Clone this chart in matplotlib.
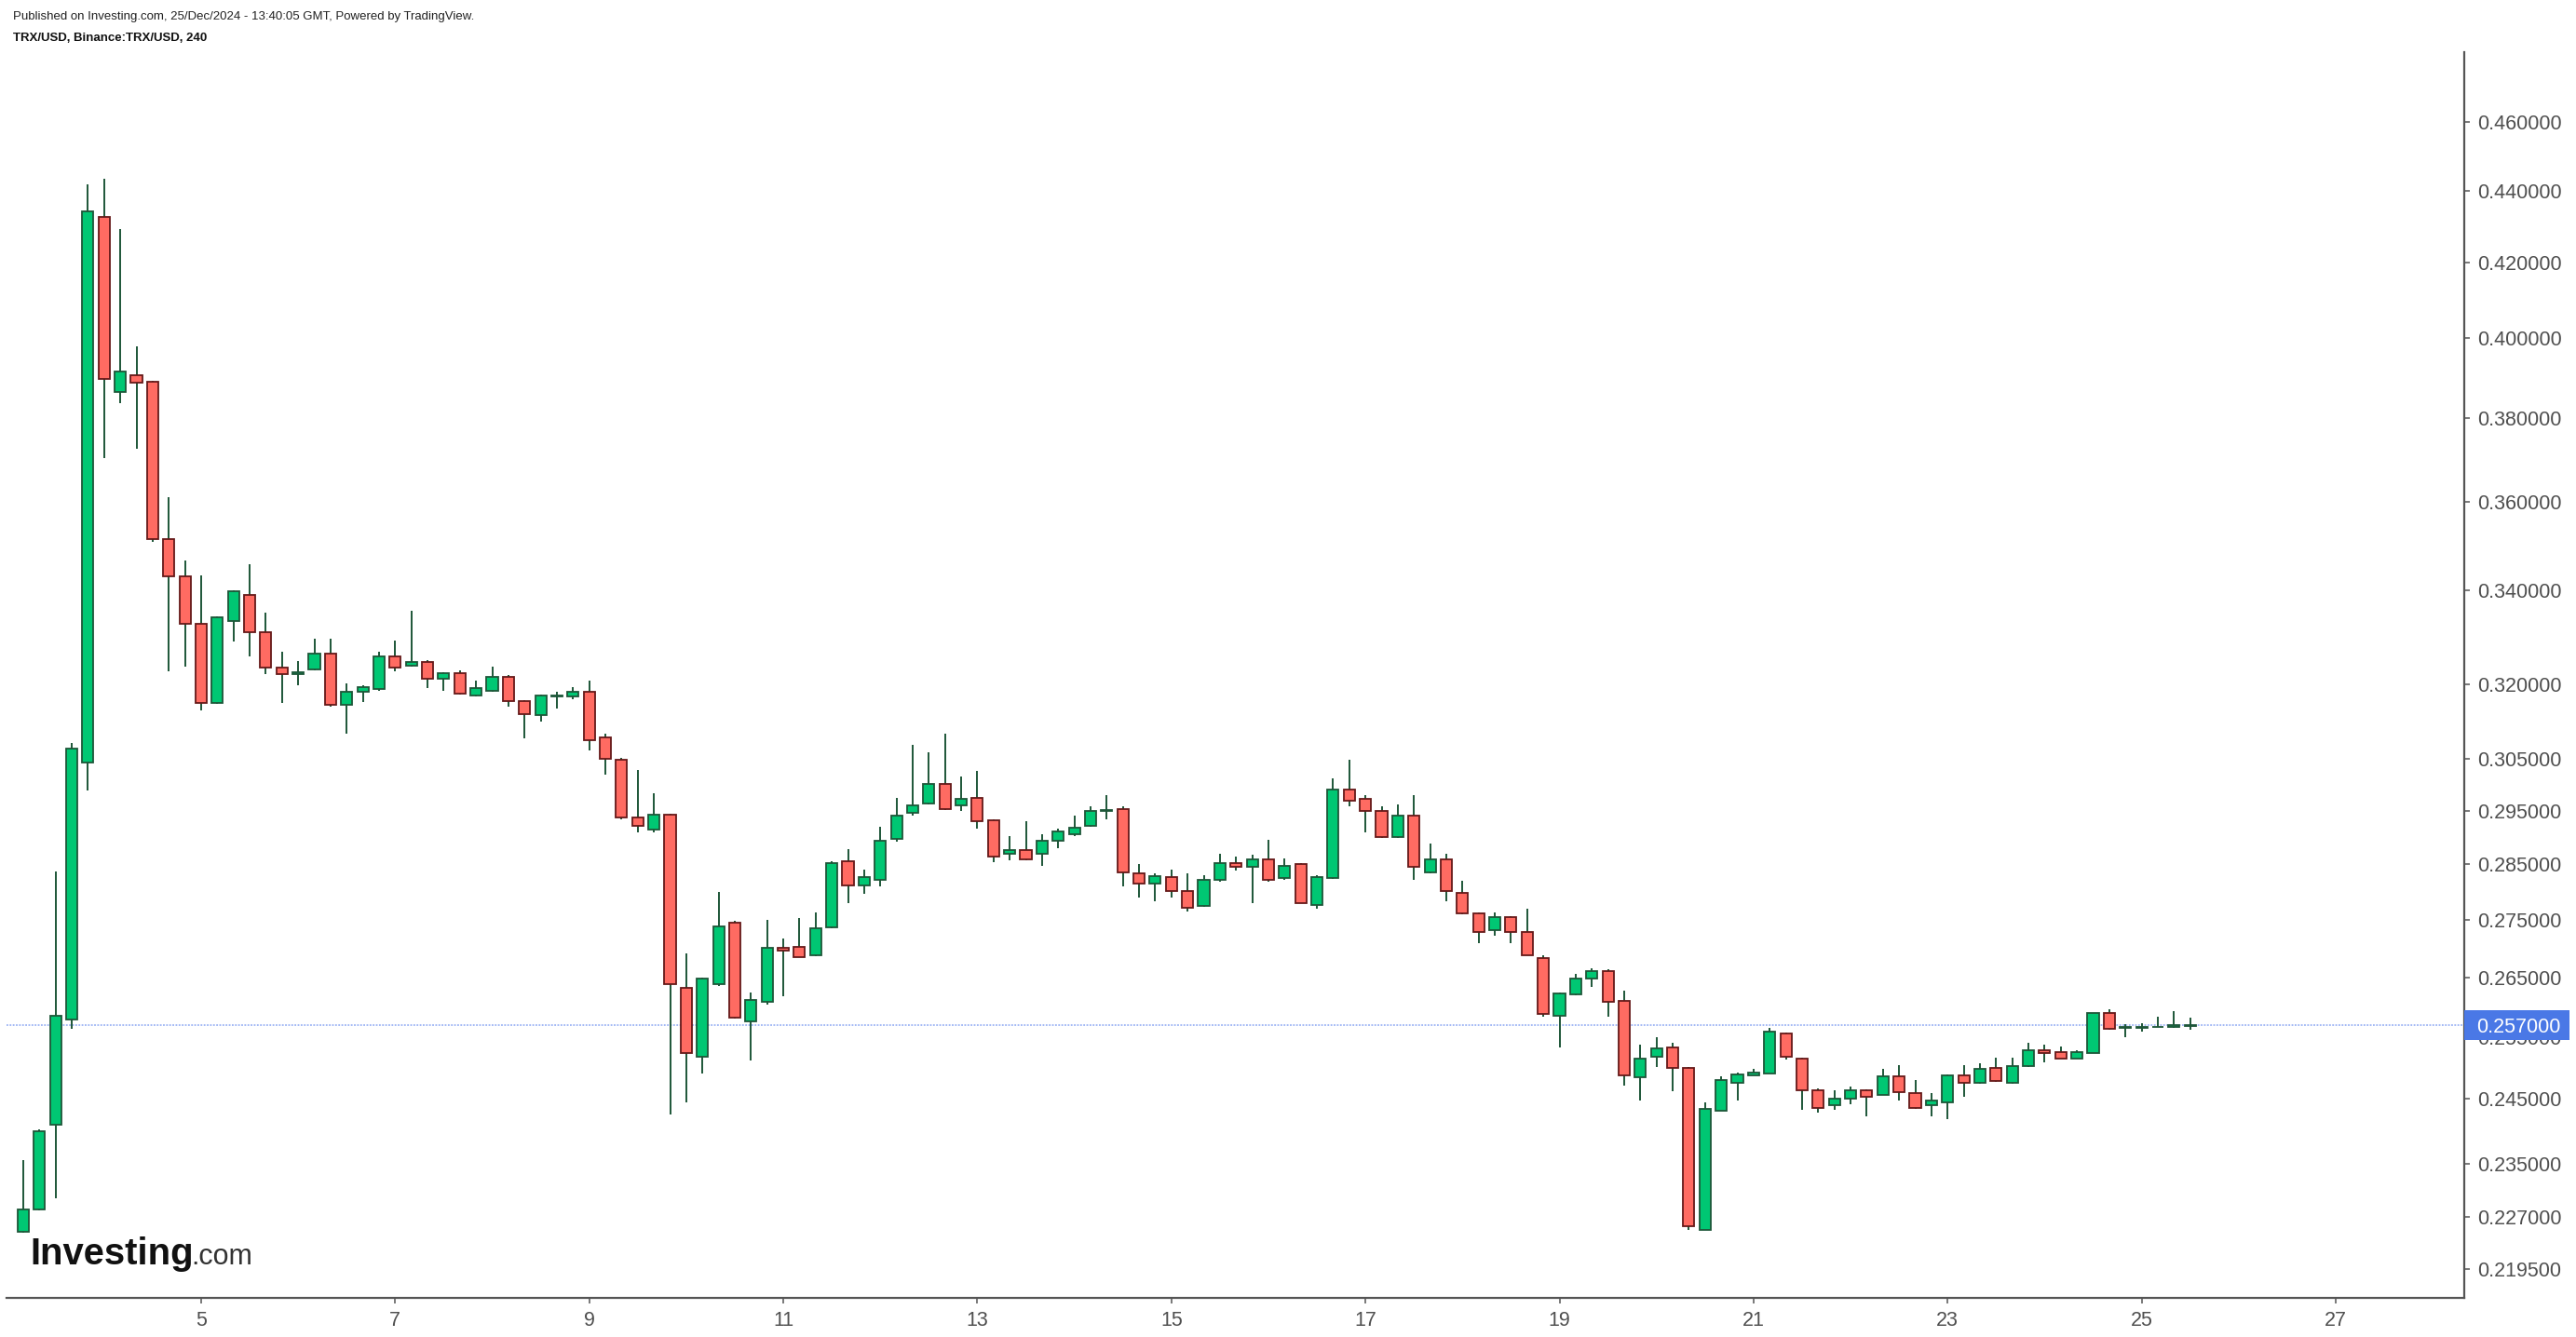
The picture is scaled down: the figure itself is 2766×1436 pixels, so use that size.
import matplotlib
matplotlib.use('Agg')
import matplotlib.pyplot as plt
import matplotlib.dates as mdates
from matplotlib.ticker import FixedLocator, FuncFormatter, NullLocator
from matplotlib.patches import Rectangle
import numpy as np
import pandas as pd

# ---------------- data (TRX/USD, 4h candles) ----------------
start_time = '2024-12-03 04:00'
opens = [0.2249, 0.2282, 0.2409, 0.2578, 0.3044, 0.4326, 0.3864, 0.3907, 0.3889, 0.3515,
         0.3432, 0.3327, 0.3163, 0.3334, 0.3391, 0.3310, 0.3235, 0.3221, 0.3232, 0.3265,
         0.3159, 0.3185, 0.3190, 0.3259, 0.3240, 0.3247, 0.3212, 0.3224, 0.3177, 0.3188,
         0.3216, 0.3166, 0.3137, 0.3175, 0.3175, 0.3186, 0.3092, 0.3048, 0.2937, 0.2915,
         0.2943, 0.2632, 0.2517, 0.2638, 0.2745, 0.2575, 0.2609, 0.2700, 0.2703, 0.2688,
         0.2737, 0.2856, 0.2811, 0.2822, 0.2897, 0.2946, 0.2963, 0.3001, 0.2960, 0.2975,
         0.2932, 0.2869, 0.2877, 0.2869, 0.2893, 0.2906, 0.2921, 0.2950, 0.2953, 0.2833,
         0.2814, 0.2826, 0.2802, 0.2774, 0.2822, 0.2853, 0.2846, 0.2859, 0.2825, 0.2850,
         0.2777, 0.2825, 0.2990, 0.2972, 0.2950, 0.2900, 0.2940, 0.2835, 0.2859, 0.2798,
         0.2762, 0.2731, 0.2755, 0.2729, 0.2683, 0.2585, 0.2620, 0.2647, 0.2661, 0.2610,
         0.2484, 0.2518, 0.2533, 0.2500, 0.2252, 0.2432, 0.2475, 0.2488, 0.2491, 0.2555,
         0.2515, 0.2464, 0.2440, 0.2451, 0.2464, 0.2457, 0.2486, 0.2459, 0.2440, 0.2445,
         0.2488, 0.2475, 0.2500, 0.2475, 0.2502, 0.2528, 0.2525, 0.2515, 0.2524, 0.2589,
         0.2564, 0.2565, 0.2566, 0.2567, 0.2568]
highs = [0.2355, 0.2403, 0.2837, 0.3082, 0.4417, 0.4433, 0.4292, 0.3980, 0.3892, 0.3611,
         0.3467, 0.3434, 0.3343, 0.3401, 0.3459, 0.3352, 0.3268, 0.3248, 0.3296, 0.3296,
         0.3203, 0.3198, 0.3268, 0.3292, 0.3356, 0.3250, 0.3226, 0.3229, 0.3209, 0.3237,
         0.3220, 0.3168, 0.3179, 0.3186, 0.3194, 0.3209, 0.3100, 0.3052, 0.3028, 0.2983,
         0.2945, 0.2691, 0.2650, 0.2800, 0.2748, 0.2624, 0.2750, 0.2717, 0.2753, 0.2763,
         0.2855, 0.2878, 0.2840, 0.2919, 0.2975, 0.3078, 0.3063, 0.3100, 0.3016, 0.3027,
         0.2934, 0.2902, 0.2930, 0.2906, 0.2916, 0.2941, 0.2958, 0.2980, 0.2958, 0.2851,
         0.2834, 0.2840, 0.2834, 0.2830, 0.2870, 0.2864, 0.2867, 0.2896, 0.2861, 0.2853,
         0.2830, 0.3012, 0.3049, 0.2980, 0.2958, 0.2962, 0.2980, 0.2889, 0.2870, 0.2820,
         0.2763, 0.2763, 0.2757, 0.2769, 0.2687, 0.2624, 0.2655, 0.2665, 0.2663, 0.2627,
         0.2537, 0.2549, 0.2540, 0.2501, 0.2444, 0.2486, 0.2492, 0.2498, 0.2565, 0.2557,
         0.2516, 0.2467, 0.2464, 0.2469, 0.2465, 0.2498, 0.2504, 0.2480, 0.2459, 0.2489,
         0.2504, 0.2507, 0.2516, 0.2516, 0.2540, 0.2537, 0.2534, 0.2528, 0.2590, 0.2596,
         0.2571, 0.2573, 0.2583, 0.2592, 0.2581]
lows = [0.2247, 0.2280, 0.2298, 0.2563, 0.2988, 0.3704, 0.3836, 0.3725, 0.3509, 0.3227,
        0.3238, 0.3147, 0.3160, 0.3290, 0.3258, 0.3222, 0.3163, 0.3199, 0.3230, 0.3155,
        0.3101, 0.3165, 0.3188, 0.3227, 0.3238, 0.3192, 0.3188, 0.3180, 0.3176, 0.3185,
        0.3154, 0.3091, 0.3125, 0.3151, 0.3170, 0.3067, 0.3020, 0.2934, 0.2909, 0.2909,
        0.2425, 0.2445, 0.2490, 0.2635, 0.2580, 0.2511, 0.2603, 0.2617, 0.2684, 0.2686,
        0.2735, 0.2779, 0.2796, 0.2810, 0.2892, 0.2941, 0.2962, 0.2952, 0.2949, 0.2916,
        0.2854, 0.2858, 0.2858, 0.2847, 0.2879, 0.2903, 0.2920, 0.2933, 0.2810, 0.2790,
        0.2783, 0.2790, 0.2764, 0.2773, 0.2818, 0.2838, 0.2779, 0.2818, 0.2821, 0.2779,
        0.2770, 0.2824, 0.2958, 0.2909, 0.2899, 0.2899, 0.2821, 0.2834, 0.2783, 0.2760,
        0.2708, 0.2721, 0.2708, 0.2687, 0.2584, 0.2532, 0.2619, 0.2634, 0.2584, 0.2471,
        0.2448, 0.2501, 0.2462, 0.2251, 0.2251, 0.2431, 0.2448, 0.2487, 0.2490, 0.2513,
        0.2433, 0.2428, 0.2433, 0.2442, 0.2422, 0.2456, 0.2448, 0.2435, 0.2422, 0.2419,
        0.2453, 0.2474, 0.2477, 0.2474, 0.2501, 0.2508, 0.2514, 0.2514, 0.2523, 0.2562,
        0.2550, 0.2559, 0.2566, 0.2565, 0.2561]
closes = [0.2282, 0.2400, 0.2585, 0.3070, 0.4342, 0.3897, 0.3916, 0.3888, 0.3515, 0.3432,
          0.3327, 0.3163, 0.3341, 0.3399, 0.3310, 0.3235, 0.3221, 0.3226, 0.3265, 0.3159,
          0.3185, 0.3194, 0.3259, 0.3235, 0.3247, 0.3212, 0.3224, 0.3182, 0.3193, 0.3216,
          0.3166, 0.3140, 0.3178, 0.3177, 0.3186, 0.3088, 0.3050, 0.2938, 0.2921, 0.2943,
          0.2638, 0.2524, 0.2648, 0.2738, 0.2582, 0.2611, 0.2700, 0.2696, 0.2685, 0.2735,
          0.2853, 0.2811, 0.2826, 0.2894, 0.2940, 0.2960, 0.3001, 0.2953, 0.2972, 0.2931,
          0.2865, 0.2877, 0.2859, 0.2894, 0.2911, 0.2918, 0.2950, 0.2952, 0.2835, 0.2814,
          0.2829, 0.2801, 0.2771, 0.2822, 0.2853, 0.2846, 0.2859, 0.2822, 0.2847, 0.2780,
          0.2826, 0.2990, 0.2969, 0.2949, 0.2900, 0.2940, 0.2846, 0.2859, 0.2801, 0.2761,
          0.2728, 0.2755, 0.2728, 0.2688, 0.2588, 0.2623, 0.2648, 0.2661, 0.2609, 0.2487,
          0.2515, 0.2531, 0.2499, 0.2257, 0.2435, 0.2480, 0.2489, 0.2492, 0.2558, 0.2518,
          0.2463, 0.2436, 0.2450, 0.2464, 0.2454, 0.2486, 0.2460, 0.2436, 0.2447, 0.2488,
          0.2475, 0.2498, 0.2478, 0.2503, 0.2528, 0.2524, 0.2515, 0.2525, 0.2589, 0.2563,
          0.2567, 0.2567, 0.2567, 0.2569, 0.2570]

ytick_values = [0.2195, 0.227, 0.235, 0.245, 0.255, 0.265, 0.275, 0.285, 0.295, 0.305,
                0.32, 0.34, 0.36, 0.38, 0.40, 0.42, 0.44, 0.46]
xtick_days = [5, 7, 9, 11, 13, 15, 17, 19, 21, 23, 25, 27]
last_price = 0.257
header_line1 = 'Published on Investing.com, 25/Dec/2024 - 13:40:05 GMT, Powered by TradingView.'
header_line2 = 'TRX/USD, Binance:TRX/USD, 240'

# ---------------- styling ----------------
W, H = 2766, 1436
UP_FILL, UP_EDGE = '#00c773', '#1d5638'
DN_FILL, DN_EDGE = '#ff6b62', '#641818'
WICK = '#1d5638'
AXIS_C = '#555555'
LABEL_C = '#4f4f4f'
FONT = ['Liberation Sans', 'DejaVu Sans']
plt.rcParams['font.family'] = FONT

fig = plt.figure(figsize=(W / 100, H / 100), dpi=100)
fig.patch.set_facecolor('white')
ax_l, ax_r, ax_t, ax_b = 7, 2646, 56, 1394
ax = fig.add_axes([ax_l / W, 1 - ax_b / H, (ax_r - ax_l) / W, (ax_b - ax_t) / H])

o = np.array(opens); h = np.array(highs); l = np.array(lows); c = np.array(closes)
times = pd.date_range(start_time, periods=len(o), freq='4h')
x = mdates.date2num(times.to_pydatetime())
up = c >= o

ax.vlines(x, l, h, color=WICK, linewidth=1.4, zorder=2)
body_w = 0.116
ax.bar(x[up], np.abs(c - o)[up], bottom=np.minimum(o, c)[up], width=body_w,
       color=UP_FILL, edgecolor=UP_EDGE, linewidth=1.3, zorder=3)
ax.bar(x[~up], np.abs(c - o)[~up], bottom=np.minimum(o, c)[~up], width=body_w,
       color=DN_FILL, edgecolor=DN_EDGE, linewidth=1.3, zorder=3)

# last price line
ax.axhline(last_price, color='#8aa6f2', linestyle=(0, (1.2, 1.0)), linewidth=1.1, zorder=1)

# scales
ax.set_yscale('log')
ax.set_ylim(0.21551, 0.48104)
x0 = mdates.date2num(pd.Timestamp('2024-12-03').to_pydatetime())
ax.set_xlim(x0 - 0.006, x0 + 25.325)

ax.yaxis.tick_right()
ax.yaxis.set_major_locator(FixedLocator(ytick_values))
ax.yaxis.set_minor_locator(NullLocator())
ax.yaxis.set_major_formatter(FuncFormatter(lambda v, p: f'{v:.6f}'))
xt = [mdates.date2num(pd.Timestamp(2024, 12, d).to_pydatetime()) for d in xtick_days]
ax.set_xticks(xt)
ax.set_xticklabels([str(d) for d in xtick_days])
ax.xaxis.set_minor_locator(NullLocator())

for s in ['left', 'top']:
    ax.spines[s].set_visible(False)
for s in ['right', 'bottom']:
    ax.spines[s].set_color(AXIS_C)
    ax.spines[s].set_linewidth(1.6)
ax.tick_params(axis='y', which='major', direction='out', length=4, width=1.1,
               color=AXIS_C, labelcolor=LABEL_C, labelsize=15.5, pad=6)
ax.tick_params(axis='x', which='major', direction='out', length=4, width=1.1,
               color=AXIS_C, labelcolor=LABEL_C, labelsize=15.5, pad=6)
ax.grid(False)

# last price label box on the axis (covers part of the 0.255 label, as in the original)
half = 16 / 1666.5
ax.add_patch(Rectangle((1.0, last_price * np.exp(-half)), 113 / (ax_r - ax_l),
                       last_price * (np.exp(half) - np.exp(-half)),
                       transform=ax.get_yaxis_transform(), facecolor='#4a78e6',
                       edgecolor='none', clip_on=False, zorder=10))
ax.text(1.0 + 13 / (ax_r - ax_l), last_price, f'{last_price:.6f}',
        transform=ax.get_yaxis_transform(), ha='left', va='center_baseline',
        color='white', fontsize=15.5, zorder=11, clip_on=False)

# header texts
renderer = fig.canvas.get_renderer()

def fit(t, target_w):
    w = t.get_window_extent(renderer).width
    t.set_fontsize(t.get_fontsize() * target_w / w)

t1 = fig.text(14 / W, 1 - 21 / H, header_line1, fontsize=10, color='#222222', va='baseline')
fit(t1, 498)
t2 = fig.text(14 / W, 1 - 44 / H, header_line2, fontsize=10, color='#111111',
              fontweight='bold', va='baseline')
fit(t2, 210)

# Investing.com logo
lg = fig.text(32 / W, 1 - 1358 / H, 'Investing', fontsize=30, fontweight='bold',
              color='#111111', va='baseline')
fit(lg, 176)
lc = fig.text(205 / W, 1 - 1358 / H, '.com', fontsize=20, color='#333333', va='baseline')
fit(lc, 66)

fig.savefig('out.png', dpi=100, facecolor='white')
